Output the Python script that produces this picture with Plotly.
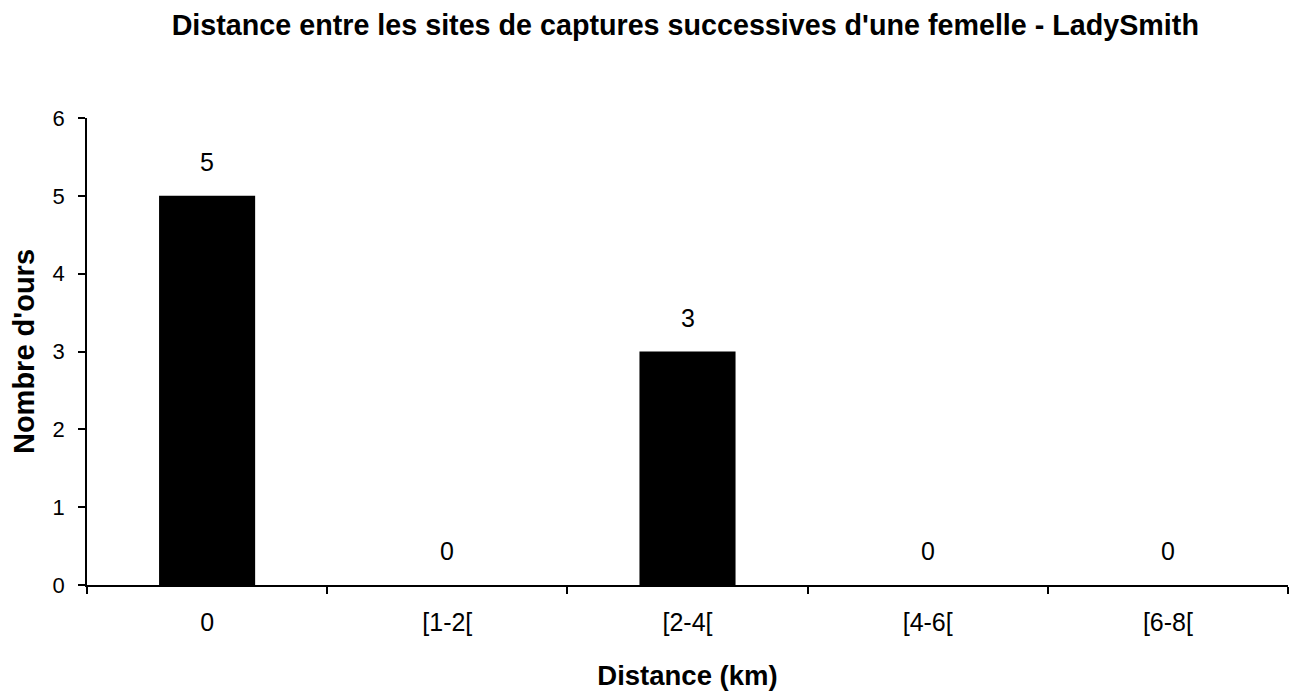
"""Bar chart: distance between successive capture sites."""

import plotly.graph_objects as go

categories = ["0", "[1-2[", "[2-4[", "[4-6[", "[6-8["]
counts = [5, 0, 3, 0, 0]
y_ticks = [0, 1, 2, 3, 4, 5, 6]

font_main = "Liberation Sans, Arial, sans-serif"

fig = go.Figure()
fig.add_trace(go.Bar(
    x=categories,
    y=counts,
    marker={'color': '#000000', 'line': {'width': 0}},
    width=0.40,
    hoverinfo='x+y',
))

# value labels above bars
for cat, val in zip(categories, counts):
    fig.add_annotation(
        x=cat, y=val, text=str(val), showarrow=False,
        yshift=34, font={'size': 25, 'color': '#000000', 'family': font_main},
    )

fig.update_xaxes(
    type='category', automargin=False,
    showline=True, linecolor='#000000', linewidth=1.5,
    ticks='outside', tickson='boundaries', ticklen=7, tickwidth=1.5, tickcolor='#000000',
    tickfont={'size': 25, 'color': '#000000', 'family': font_main},
    ticklabelstandoff=14,
    showgrid=False, zeroline=False,
    title={'text': "<b>Distance (km)</b>", 'standoff': 31,
           'font': {'size': 27.5, 'family': font_main, 'color': '#000000'}},
)
fig.update_yaxes(
    range=[0, 6], tickvals=y_ticks, automargin=False,
    showline=True, linecolor='#000000', linewidth=1.5,
    ticks='outside', ticklen=7, tickwidth=1.5, tickcolor='#000000',
    tickfont={'size': 22, 'color': '#000000', 'family': font_main},
    ticklabelstandoff=9,
    showgrid=False, zeroline=False,
    title={'text': "<b>Nombre d'ours</b>", 'standoff': 15,
           'font': {'size': 29, 'family': font_main, 'color': '#000000'}},
)

# the page adds an 8px offset, margins compensate for it
fig.update_layout(
    width=1300, height=693,
    margin={'l': 79, 'r': 20, 't': 110, 'b': 116},
    plot_bgcolor='#ffffff', paper_bgcolor='#ffffff',
    showlegend=False,
    title={'text': "<b>Distance entre les sites de captures successives d'une femelle - LadySmith</b>",
           'x': 0.521, 'xanchor': 'center', 'y': 0.975, 'yanchor': 'middle',
           'font': {'size': 28.7, 'family': font_main, 'color': '#000000'}},
)

fig.write_html("out.html")
